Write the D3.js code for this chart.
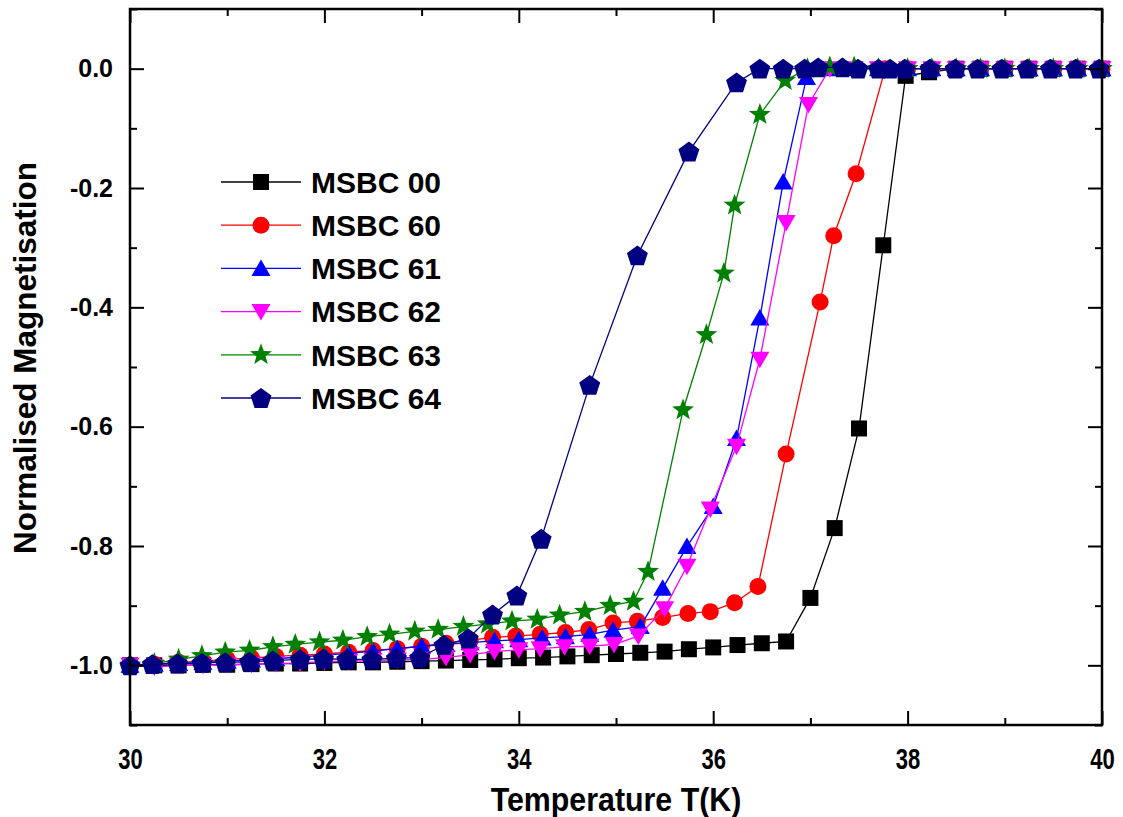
<!DOCTYPE html>
<html>
<head>
<meta charset="utf-8">
<script src="https://cdn.jsdelivr.net/npm/d3@7"></script>
<style>
  body { margin: 0; background: #fff; }
  svg { display: block; font-family: "Liberation Sans", Arial, sans-serif; }
</style>
</head>
<body>
<svg id="chart" width="1123" height="817"></svg>
<script>
//*
//* Data
//*

var seriesNames = ["MSBC 00", "MSBC 60", "MSBC 61", "MSBC 62", "MSBC 63", "MSBC 64"];
var seriesColors = ["#000000", "#ff0000", "#0000ff", "#ff00ff", "#008000", "#000080"];
var seriesShapes = ["square", "circle", "triangle", "down", "star", "pentagon"];

var t00 = [30, 30.25, 30.5, 30.75, 31, 31.25, 31.5, 31.75, 32, 32.25, 32.5, 32.75, 33, 33.25, 33.5, 33.75, 34, 34.25, 34.5, 34.75, 35, 35.25, 35.5, 35.75, 36, 36.25, 36.5, 36.75, 37, 37.25, 37.5, 37.75, 37.98, 38.22, 38.5, 38.75, 39, 39.25, 39.5, 39.75, 40];
var m00 = [-1.0, -1.0, -1.0, -0.999, -0.999, -0.998, -0.997, -0.997, -0.996, -0.995, -0.995, -0.994, -0.993, -0.992, -0.991, -0.990, -0.988, -0.987, -0.985, -0.983, -0.981, -0.979, -0.977, -0.973, -0.970, -0.966, -0.963, -0.960, -0.887, -0.770, -0.603, -0.296, -0.012, -0.006, 0, 0, 0, 0, 0, 0, 0];

var t60 = [30, 30.25, 30.5, 30.75, 31, 31.25, 31.5, 31.75, 32, 32.25, 32.5, 32.75, 33, 33.25, 33.5, 33.73, 33.97, 34.22, 34.48, 34.72, 34.97, 35.22, 35.48, 35.74, 35.97, 36.22, 36.46, 36.75, 37.1, 37.24, 37.47, 37.77, 38, 38.25, 38.5, 38.75, 39, 39.25, 39.5, 39.75, 40];
var m60 = [-1.0, -0.998, -0.995, -0.993, -0.990, -0.988, -0.985, -0.983, -0.981, -0.978, -0.975, -0.972, -0.968, -0.963, -0.958, -0.953, -0.951, -0.948, -0.945, -0.940, -0.929, -0.926, -0.920, -0.913, -0.910, -0.895, -0.868, -0.646, -0.391, -0.280, -0.176, 0.0, 0, 0, 0, 0, 0, 0, 0, 0, 0];

var t61 = [30, 30.25, 30.5, 30.75, 31, 31.25, 31.5, 31.75, 32, 32.25, 32.5, 32.75, 33, 33.25, 33.5, 33.75, 34, 34.24, 34.48, 34.73, 34.97, 35.25, 35.48, 35.73, 36, 36.24, 36.48, 36.72, 36.96, 37.2, 37.45, 37.7, 38, 38.25, 38.5, 38.75, 39, 39.25, 39.5, 39.75, 40];
var m61 = [-1.0, -0.998, -0.997, -0.995, -0.993, -0.991, -0.989, -0.986, -0.983, -0.980, -0.976, -0.972, -0.968, -0.965, -0.962, -0.959, -0.957, -0.954, -0.952, -0.948, -0.941, -0.935, -0.871, -0.801, -0.734, -0.620, -0.418, -0.190, -0.015, 0, 0, 0, 0, 0, 0, 0, 0, 0, 0, 0, 0];

var t62 = [30, 30.25, 30.5, 30.75, 31, 31.25, 31.5, 31.75, 32, 32.25, 32.5, 32.75, 33, 33.25, 33.5, 33.75, 34, 34.22, 34.47, 34.73, 34.98, 35.23, 35.5, 35.73, 35.97, 36.24, 36.48, 36.75, 36.98, 37.2, 37.45, 37.7, 38, 38.25, 38.5, 38.75, 39, 39.25, 39.5, 39.75, 40];
var m62 = [-1.0, -1.003, -1.0, -1.0, -0.999, -0.998, -0.997, -0.996, -0.994, -0.993, -0.992, -0.991, -0.990, -0.987, -0.982, -0.977, -0.974, -0.972, -0.969, -0.968, -0.965, -0.951, -0.905, -0.834, -0.738, -0.633, -0.487, -0.258, -0.060, 0, 0, 0, 0, 0, 0, 0, 0, 0, 0, 0, 0];

var t63 = [30, 30.25, 30.5, 30.74, 30.98, 31.23, 31.47, 31.7, 31.95, 32.19, 32.44, 32.67, 32.93, 33.17, 33.43, 33.68, 33.93, 34.19, 34.42, 34.68, 34.94, 35.18, 35.33, 35.69, 35.93, 36.11, 36.22, 36.48, 36.74, 36.97, 37.2, 37.45, 37.7, 38, 38.25, 38.5, 38.75, 39, 39.25, 39.5, 39.75, 40];
var m63 = [-1.0, -0.997, -0.990, -0.984, -0.978, -0.975, -0.969, -0.965, -0.961, -0.958, -0.952, -0.948, -0.943, -0.940, -0.935, -0.931, -0.926, -0.923, -0.916, -0.910, -0.900, -0.893, -0.843, -0.572, -0.446, -0.343, -0.229, -0.077, -0.020, 0.0, 0.003, 0.003, 0.0, 0, 0, 0, 0, 0, 0, 0, 0, 0];

var t64 = [30, 30.23, 30.49, 30.74, 30.98, 31.23, 31.47, 31.75, 31.99, 32.23, 32.49, 32.74, 32.98, 33.23, 33.48, 33.73, 33.98, 34.23, 34.73, 35.22, 35.75, 36.24, 36.48, 36.72, 36.94, 37.08, 37.33, 37.49, 37.7, 37.82, 37.97, 38.23, 38.49, 38.72, 38.97, 39.23, 39.47, 39.73, 39.97];
var m64 = [-1.0, -0.998, -0.997, -0.996, -0.995, -0.994, -0.992, -0.990, -0.989, -0.990, -0.990, -0.988, -0.987, -0.966, -0.955, -0.915, -0.883, -0.788, -0.530, -0.313, -0.139, -0.023, 0.0, 0.0, 0.0, 0.002, 0.002, 0.0, 0.0, 0.0, 0.0, 0.0, 0.0, 0.0, 0.0, 0.0, 0.0, 0.0, 0.0];

var temps = [t00, t60, t61, t62, t63, t64];
var mags = [m00, m60, m61, m62, m63, m64];

var xMajor = [30, 32, 34, 36, 38, 40];
var xMinor = [31, 33, 35, 37, 39];
var yMajor = [-1.0, -0.8, -0.6, -0.4, -0.2, 0.0];
var yMinor = [-1.1, -0.9, -0.7, -0.5, -0.3, -0.1, 0.1];

//*
//* Setup
//*

var svg = d3.select("#chart");
var W = 1123, H = 817;
var margin = {left: 130, right: 21, top: 9, bottom: 92};
var x = d3.scaleLinear().domain([30, 40]).range([margin.left, W - margin.right]);
var y = d3.scaleLinear().domain([-1.1, 0.1]).range([H - margin.bottom, margin.top]);

function fmtY(d) { return d.toFixed(1).replace("\u2212", "-"); }

/* marker paths */
function markerPath(shape) {
	var p = d3.path();
	var i, a, r;
	if (shape === "square") {
		p.rect(-8, -8, 16, 16);
	} else if (shape === "circle") {
		p.arc(0, 0, 8.5, 0, 2 * Math.PI);
	} else if (shape === "triangle" || shape === "down") {
		var s = shape === "down" ? -1 : 1;
		r = 11;
		for (i = 0; i < 3; i++) {
			a = -Math.PI / 2 + i * 2 * Math.PI / 3;
			var px = r * Math.cos(a), py = s * (r * Math.sin(a) + 2);
			if (i === 0) p.moveTo(px, py); else p.lineTo(px, py);
		}
		p.closePath();
	} else if (shape === "star") {
		for (i = 0; i < 10; i++) {
			r = i % 2 === 0 ? 11.5 : 4.8;
			a = -Math.PI / 2 + i * Math.PI / 5;
			if (i === 0) p.moveTo(r * Math.cos(a), r * Math.sin(a));
			else p.lineTo(r * Math.cos(a), r * Math.sin(a));
		}
		p.closePath();
	} else if (shape === "pentagon") {
		r = 11;
		for (i = 0; i < 5; i++) {
			a = -Math.PI / 2 + i * 2 * Math.PI / 5;
			if (i === 0) p.moveTo(r * Math.cos(a), r * Math.sin(a) + 1);
			else p.lineTo(r * Math.cos(a), r * Math.sin(a) + 1);
		}
		p.closePath();
	}
	return p.toString();
}

//*
//* Series
//*

var line = d3.line()
	.x(function(d) { return x(d[0]); })
	.y(function(d) { return y(d[1]); });

var plot = svg.append("g");

for (var k = 0; k < seriesNames.length; k++) {
	var pts = temps[k].map(function(t, i) { return [t, mags[k][i]]; });
	var g = plot.append("g");
	g.append("path")
		.datum(pts)
		.attr("d", line)
		.attr("fill", "none")
		.attr("stroke", seriesColors[k])
		.attr("stroke-width", 1.3);
	g.selectAll("path.mk")
		.data(pts)
		.enter()
		.append("path")
		.attr("class", "mk")
		.attr("d", markerPath(seriesShapes[k]))
		.attr("transform", function(d) { return "translate(" + x(d[0]) + "," + y(d[1]) + ")"; })
		.attr("fill", seriesColors[k]);
}

//*
//* Axes
//*

var frame = svg.append("g");

/* bottom */
frame.append("g")
	.attr("transform", "translate(0," + y.range()[0] + ")")
	.call(d3.axisBottom(x).tickValues(xMajor).tickSize(-14).tickSizeOuter(0).tickPadding(23).tickFormat(d3.format("d")))
	.call(function(a) {
		a.select(".domain").remove();
		a.selectAll("text").attr("font-size", 29).attr("font-weight", "bold").attr("fill", "#000")
			.attr("transform", "scale(0.76,1)");
	});
frame.append("g")
	.attr("transform", "translate(0," + y.range()[0] + ")")
	.call(d3.axisBottom(x).tickValues(xMinor).tickSize(-7).tickSizeOuter(0).tickFormat(""))
	.call(function(a) { a.select(".domain").remove(); });

/* top */
frame.append("g")
	.attr("transform", "translate(0," + y.range()[1] + ")")
	.call(d3.axisTop(x).tickValues(xMajor).tickSize(-14).tickSizeOuter(0).tickFormat(""))
	.call(function(a) { a.select(".domain").remove(); });
frame.append("g")
	.attr("transform", "translate(0," + y.range()[1] + ")")
	.call(d3.axisTop(x).tickValues(xMinor).tickSize(-7).tickSizeOuter(0).tickFormat(""))
	.call(function(a) { a.select(".domain").remove(); });

/* left */
frame.append("g")
	.attr("transform", "translate(" + x.range()[0] + ",0)")
	.call(d3.axisLeft(y).tickValues(yMajor).tickSize(-14).tickSizeOuter(0).tickPadding(17).tickFormat(fmtY))
	.call(function(a) {
		a.select(".domain").remove();
		a.selectAll("text").attr("font-size", 25).attr("font-weight", "bold").attr("fill", "#000");
	});
frame.append("g")
	.attr("transform", "translate(" + x.range()[0] + ",0)")
	.call(d3.axisLeft(y).tickValues(yMinor).tickSize(-7).tickSizeOuter(0).tickFormat(""))
	.call(function(a) { a.select(".domain").remove(); });

/* right */
frame.append("g")
	.attr("transform", "translate(" + x.range()[1] + ",0)")
	.call(d3.axisRight(y).tickValues(yMajor).tickSize(-14).tickSizeOuter(0).tickFormat(""))
	.call(function(a) { a.select(".domain").remove(); });
frame.append("g")
	.attr("transform", "translate(" + x.range()[1] + ",0)")
	.call(d3.axisRight(y).tickValues(yMinor).tickSize(-7).tickSizeOuter(0).tickFormat(""))
	.call(function(a) { a.select(".domain").remove(); });

frame.selectAll(".tick line").attr("stroke", "#000").attr("stroke-width", 2);

/* box */
frame.append("rect")
	.attr("x", x.range()[0])
	.attr("y", y.range()[1])
	.attr("width", x.range()[1] - x.range()[0])
	.attr("height", y.range()[0] - y.range()[1])
	.attr("fill", "none")
	.attr("stroke", "#000")
	.attr("stroke-width", 2.5);

/* titles */
svg.append("text")
	.attr("transform", "translate(" + ((x.range()[0] + x.range()[1]) / 2) + ",811) scale(0.92,1)")
	.attr("text-anchor", "middle")
	.attr("font-size", 33)
	.attr("font-weight", "bold")
	.text("Temperature T(K)");

svg.append("text")
	.attr("transform", "translate(36,358) rotate(-90)")
	.attr("text-anchor", "middle")
	.attr("font-size", 31.5)
	.attr("font-weight", "bold")
	.text("Normalised Magnetisation");

//*
//* Legend
//*

var legend = svg.append("g").attr("transform", "translate(221,182)");
seriesNames.forEach(function(name, i) {
	var row = legend.append("g").attr("transform", "translate(0," + (i * 43.2) + ")");
	row.append("line")
		.attr("x1", 0).attr("x2", 80)
		.attr("stroke", seriesColors[i])
		.attr("stroke-width", 1.3);
	row.append("path")
		.attr("d", markerPath(seriesShapes[i]))
		.attr("transform", "translate(40,0)")
		.attr("fill", seriesColors[i]);
	row.append("text")
		.attr("x", 90)
		.attr("dy", "0.36em")
		.attr("font-size", 30)
		.attr("font-weight", "bold")
		.text(name);
});
</script>
</body>
</html>
